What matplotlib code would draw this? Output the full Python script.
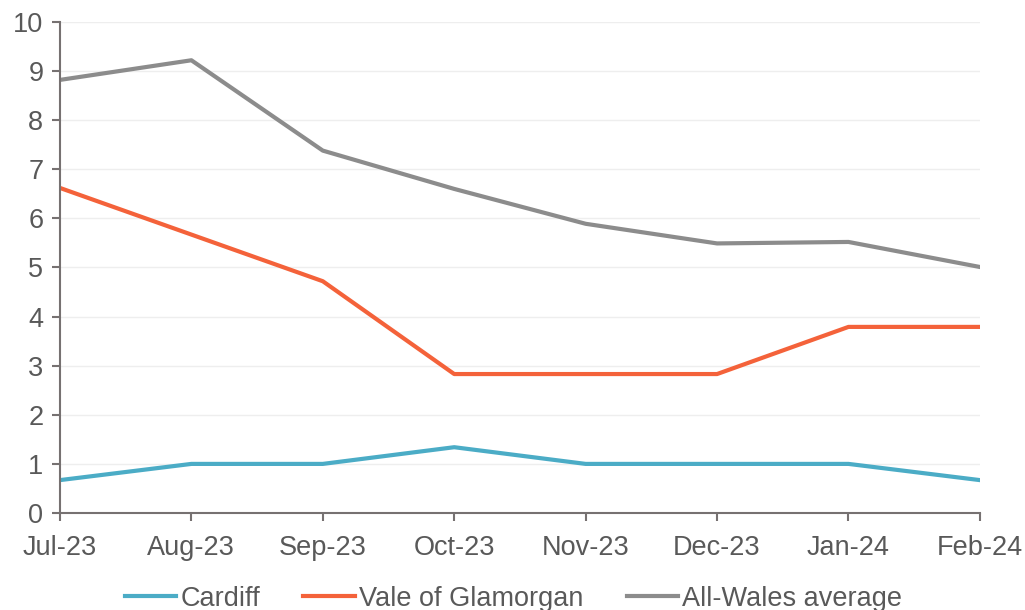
import matplotlib.pyplot as plt

months = ["Jul-23", "Aug-23", "Sep-23", "Oct-23", "Nov-23", "Dec-23", "Jan-24", "Feb-24"]
cardiff = [0.67, 1.0, 1.0, 1.34, 1.0, 1.0, 1.0, 0.67]
vale = [6.62, 5.67, 4.72, 2.83, 2.83, 2.83, 3.79, 3.79]
wales_avg = [8.82, 9.22, 7.38, 6.60, 5.89, 5.49, 5.52, 5.01]

plt.rcParams['font.family'] = ['Liberation Sans', 'DejaVu Sans']

fig = plt.figure(figsize=(10.25, 6.1), dpi=100)
ax = fig.add_axes([0.0585, 0.159, 0.8975, 0.805])

x = list(range(len(months)))
ax.plot(x, cardiff, color="#4BACC6", lw=3, label="Cardiff")
ax.plot(x, vale, color="#F4623A", lw=3, label="Vale of Glamorgan")
ax.plot(x, wales_avg, color="#8C8C8C", lw=3, label="All-Wales average")

ax.set_xlim(0, len(months) - 1)
ax.set_ylim(0, 10)
ax.set_yticks(range(0, 11))
ax.set_xticks(x)
ax.set_xticklabels(months)

ax.grid(axis="y", color="#EEEEEE", lw=1)
ax.set_axisbelow(True)
for s in ["top", "right"]:
    ax.spines[s].set_visible(False)
for s in ["left", "bottom"]:
    ax.spines[s].set_color("#767171")
    ax.spines[s].set_linewidth(1.5)
ax.tick_params(colors="#767171", labelcolor="#595959", labelsize=19.5, length=6, width=1.5)
ax.tick_params(axis="x", pad=10)
ax.tick_params(axis="y", pad=6)

ax.legend(loc="upper center", bbox_to_anchor=(0.493, -0.098), ncol=3, frameon=False,
          fontsize=19.5, handlelength=1.9, handletextpad=0.15, columnspacing=1.6,
          labelcolor="#595959")

fig.savefig("out.png", dpi=100)
